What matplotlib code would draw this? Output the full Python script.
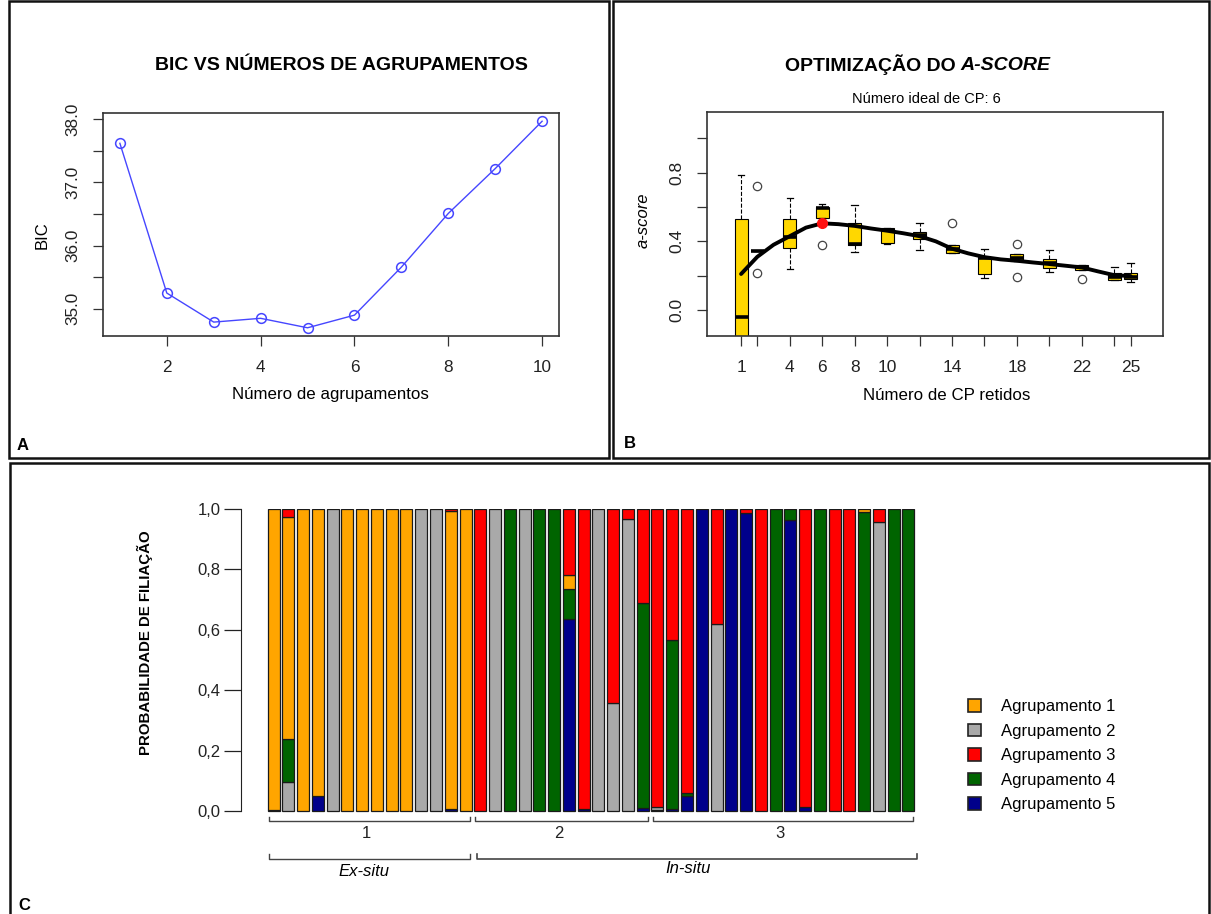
import numpy as np
import matplotlib
matplotlib.use("Agg")
import matplotlib.pyplot as plt
from matplotlib.patches import Rectangle, Patch

plt.rcParams['font.family'] = ['Liberation Sans', 'DejaVu Sans']

# ---- panel A: BIC vs number of clusters
n_groups = [1, 2, 3, 4, 5, 6, 7, 8, 9, 10]
bic = [37.62, 35.25, 34.79, 34.85, 34.70, 34.90, 35.66, 36.51, 37.22, 37.97]

# ---- panel B: a-score optimisation (boxplot stats per number of PCs)
n_pca = [1, 2, 4, 6, 8, 10, 12, 14, 16, 18, 20, 22, 24, 25]
q1 = [-0.30, 0.342, 0.359, 0.534, 0.379, 0.392, 0.412, 0.334, 0.210, 0.287, 0.243, 0.233, 0.175, 0.179]
med = [-0.039, 0.342, 0.425, 0.594, 0.383, 0.466, 0.437, 0.357, 0.305, 0.301, 0.272, 0.248, 0.195, 0.194]
q3 = [0.528, 0.342, 0.528, 0.602, 0.509, 0.480, 0.456, 0.379, 0.310, 0.326, 0.299, 0.262, 0.214, 0.214]
w_lo = [-0.50, 0.342, 0.237, 0.534, 0.340, 0.383, 0.349, 0.334, 0.185, 0.287, 0.223, 0.233, 0.175, 0.165]
w_hi = [0.786, 0.342, 0.650, 0.617, 0.612, 0.480, 0.505, 0.379, 0.355, 0.326, 0.349, 0.262, 0.252, 0.272]
fliers = [[], [0.722, 0.217], [], [0.379], [], [], [], [0.505], [], [0.384, 0.190], [], [0.183], [], []]
curve_x = list(range(1, 26))
curve_y = [0.21, 0.31, 0.38, 0.43, 0.48, 0.505, 0.50, 0.49, 0.475, 0.462, 0.447, 0.43, 0.40,
           0.357, 0.33, 0.308, 0.295, 0.287, 0.277, 0.268, 0.258, 0.248, 0.225, 0.203, 0.198]
best_pc = 6
best_score = 0.505

# ---- panel C: membership probabilities, 44 individuals in 3 populations
pop_sizes = [14, 12, 18]
pop_names = ['1', '2', '3']
agr1 = [.995, .735, 1, .95, 0, 1, 1, 1, 1, 1, 0, 0, .986, 1,
        0, 0, 0, 0, 0, 0, .047, 0, 0, 0, 0, 0,
        0, 0, 0, 0, 0, 0, 0, 0, 0, 0, 0, 0, 0, 0, .011, 0, 0, 0]
agr2 = [0, .095, 0, 0, 1, 0, 0, 0, 0, 0, 1, 1, 0, 0,
        0, 1, 0, 1, 0, 0, 0, 0, 1, .358, .967, 0,
        .01, 0, 0, 0, .618, 0, 0, 0, 0, 0, 0, 0, 0, 0, 0, .958, 0, 0]
agr3 = [0, .027, 0, 0, 0, 0, 0, 0, 0, 0, 0, 0, .006, 0,
        1, 0, 0, 0, 0, 0, .217, .992, 0, .642, .033, .31,
        .986, .432, .939, 0, .382, 0, .013, 1, 0, 0, .986, 0, 1, 1, 0, .042, 0, 0]
agr4 = [0, .143, 0, 0, 0, 0, 0, 0, 0, 0, 0, 0, 0, 0,
        0, 0, 1, 0, 1, 1, .099, 0, 0, 0, 0, .68,
        0, .56, .011, 0, 0, 0, 0, 0, 1, .038, 0, 1, 0, 0, .989, 0, 1, 1]
agr5 = [.005, 0, 0, .05, 0, 0, 0, 0, 0, 0, 0, 0, .008, 0,
        0, 0, 0, 0, 0, 0, .637, .008, 0, 0, 0, .01,
        .004, .008, .05, 1, 0, 1, .987, 0, 0, .962, .014, 0, 0, 0, 0, 0, 0, 0]
cluster_labels = ['Agrupamento 1', 'Agrupamento 2', 'Agrupamento 3', 'Agrupamento 4', 'Agrupamento 5']
cluster_colors = ['#FFA500', '#A9A9A9', '#FF0000', '#006400', '#00008B']

W, H = 1211, 914
fig = plt.figure(figsize=(W / 100, H / 100), dpi=100)


def rect(x0, y0, x1, y1):
    return [x0 / W, 1 - y1 / H, (x1 - x0) / W, (y1 - y0) / H]


def ftext(x, y, s, **kw):
    fig.text(x / W, 1 - y / H, s, **kw)


# panel frames
for x0, y0, x1, y1 in [(8.5, 1, 609, 458), (613, 1, 1209, 458), (10, 463, 1209, 916)]:
    fig.add_artist(Rectangle((x0 / W, 1 - y1 / H), (x1 - x0) / W, (y1 - y0) / H,
                             transform=fig.transFigure, fill=False, lw=1.8, ec='#111'))

# ---------------- A
axA = fig.add_axes(rect(103, 113, 559, 336))
axA.plot(n_groups, bic, color='#4646FF', lw=1.0, marker='o', ms=7, mfc='none', mec='#4646FF', mew=1.1)
axA.set_xlim(0.64, 10.36)
axA.set_ylim(34.57, 38.10)
axA.set_xticks([2, 4, 6, 8, 10])
axA.set_yticks(np.arange(35.0, 38.01, 0.5))
axA.set_yticklabels([f'{v:.1f}' if v % 1 == 0 else '' for v in np.arange(35.0, 38.01, 0.5)],
                    rotation=90, va='center')
axA.tick_params(axis='both', labelsize=12.3, length=7, width=0.9, color='#333', labelcolor='#222')
axA.tick_params(axis='x', pad=10)
axA.tick_params(axis='y', pad=9)
for s in axA.spines.values():
    s.set_color('#333')
    s.set_linewidth(1.2)
ftext(341, 66, 'BIC VS NÚMEROS DE AGRUPAMENTOS', ha='center', va='center', fontsize=14, fontweight='bold')
ftext(330, 395, 'Número de agrupamentos', ha='center', va='center', fontsize=12.2)
ftext(42, 235, 'BIC', ha='center', va='center', fontsize=12, rotation=90)
ftext(23, 445, 'A', ha='center', va='center', fontsize=12, fontweight='bold')

# ---------------- B
axB = fig.add_axes(rect(707, 112, 1163, 336))
stats = []
for i in range(len(n_pca)):
    stats.append(dict(med=med[i], q1=q1[i], q3=q3[i], whislo=w_lo[i], whishi=w_hi[i], fliers=fliers[i]))
axB.bxp(stats, positions=n_pca, widths=0.8, patch_artist=True, manage_ticks=False, capwidths=0.4,
        boxprops=dict(facecolor='#FFD700', edgecolor='black', lw=0.8),
        whiskerprops=dict(ls='--', lw=0.8, color='black'),
        capprops=dict(lw=0.9, color='black'),
        medianprops=dict(color='black', lw=2.6),
        flierprops=dict(marker='o', mfc='none', mec='#444', ms=6, mew=0.9))
axB.plot(curve_x, curve_y, color='black', lw=2.8, zorder=5, solid_capstyle='round')
axB.plot([best_pc], [best_score], 'o', color='#FF1010', ms=7, zorder=6)
axB.set_xlim(-1.1, 27.0)
axB.set_ylim(-0.151, 1.153)
axB.set_xticks(n_pca)
axB.set_xticklabels([str(p) if p in (1, 4, 6, 8, 10, 14, 18, 22, 25) else '' for p in n_pca])
yt = np.arange(0, 1.01, 0.2)
axB.set_yticks(yt)
axB.set_yticklabels([f'{v:.1f}' if round(v * 10) % 4 == 0 else '' for v in yt], rotation=90, va='center')
axB.tick_params(axis='both', labelsize=12.5, length=7, width=0.9, color='#333', labelcolor='#222')
axB.tick_params(axis='x', pad=10)
axB.tick_params(axis='y', pad=9)
for s in axB.spines.values():
    s.set_color('#333')
    s.set_linewidth(1.2)
ftext(956, 65, 'OPTIMIZAÇÃO DO', ha='right', va='center', fontsize=14, fontweight='bold')
ftext(960, 65, 'A-SCORE', ha='left', va='center', fontsize=14, fontweight='bold', fontstyle='italic')
ftext(926, 99, 'Número ideal de CP: 6', ha='center', va='center', fontsize=10.5)
ftext(947, 395, 'Número de CP retidos', ha='center', va='center', fontsize=12.2)
ftext(643, 220, 'a-score', ha='center', va='center', fontsize=12, rotation=90, fontstyle='italic')
ftext(630, 443, 'B', ha='center', va='center', fontsize=12, fontweight='bold')

# ---------------- C
axC = fig.add_axes(rect(241, 509, 930, 880))
xs = np.arange(len(agr1))
order = [4, 1, 3, 0, 2]  # stacking bottom -> top
series = [agr1, agr2, agr3, agr4, agr5]
bottom = np.zeros(len(xs))
for k in order:
    vals = np.array(series[k], dtype=float)
    m = vals > 0
    axC.bar(xs[m], vals[m], bottom=bottom[m], width=0.8125, color=cluster_colors[k],
            edgecolor='#1a1a1a', lw=0.9)
    bottom += vals
axC.set_xlim(-2.207, 44.46)
axC.set_ylim(-0.228, 1.0)
for name in ['top', 'right', 'bottom']:
    axC.spines[name].set_visible(False)
axC.spines['left'].set_bounds(0, 1)
axC.spines['left'].set_color('#222')
axC.set_xticks([])
yt = np.arange(0, 1.01, 0.2)
axC.set_yticks(yt)
axC.set_yticklabels([f'{v:.1f}'.replace('.', ',') for v in yt])
axC.tick_params(axis='y', labelsize=12, length=12.5, width=0.9, color='#222', pad=2, labelcolor='#222')


# population brackets
def bracket(x0, x1, y, h, lw=1.0):
    axC.plot([x0, x0, x1, x1], [y + h, y, y, y + h], color='#444', lw=lw, clip_on=False)


starts = np.cumsum([0] + pop_sizes[:-1])
for s0, n, name in zip(starts, pop_sizes, pop_names):
    x0, x1 = s0 - 0.33, s0 + n - 1 + 0.33
    bracket(x0, x1, -0.033, 0.015)
    axC.text((x0 + x1) / 2 - 0.2, -0.075, name, ha='center', va='center', fontsize=12, color='#222')
bracket(-0.33, pop_sizes[0] - 1 + 0.33, -0.157, 0.015)
bracket(pop_sizes[0] - 0.23, sum(pop_sizes) - 1 + 0.6, -0.157, 0.015, lw=1.2)
axC.text(6.1, -0.2, 'Ex-situ', ha='center', va='center', fontsize=12, fontstyle='italic')
axC.text(28.1, -0.19, 'In-situ', ha='center', va='center', fontsize=12, fontstyle='italic')

ftext(145, 643, 'PROBABILIDADE DE FILIAÇÃO', ha='center', va='center', fontsize=10.8,
      fontweight='bold', rotation=90)
ftext(24, 905, 'C', ha='center', va='center', fontsize=12, fontweight='bold')

handles = [Patch(facecolor=c, edgecolor='#222', lw=1.2) for c in cluster_colors]
fig.legend(handles, cluster_labels, loc='upper left', bbox_to_anchor=(953 / W, 1 - 684 / H),
           frameon=False, fontsize=12, handlelength=0.8, handleheight=0.8, handletextpad=1.2,
           labelspacing=0.56)

fig.savefig('out.png', dpi=100)
